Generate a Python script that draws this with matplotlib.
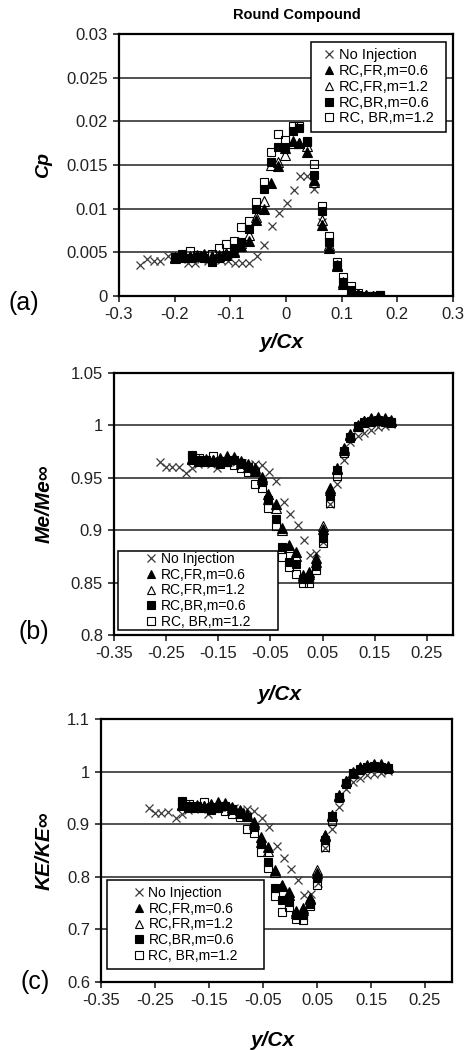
import matplotlib.pyplot as plt
from matplotlib.patches import Rectangle

plt.rcParams['font.family'] = ['Liberation Sans', 'DejaVu Sans']

series_names = ['No Injection', 'RC,FR,m=0.6', 'RC,FR,m=1.2', 'RC,BR,m=0.6', 'RC, BR,m=1.2']

# traverse positions y/Cx
pos_noinj = [-0.262, -0.250, -0.238, -0.226, -0.212, -0.200, -0.188, -0.176, -0.164, -0.152,
             -0.140, -0.128, -0.116, -0.104, -0.092, -0.079, -0.067, -0.052, -0.039, -0.025,
             -0.012, 0.002, 0.014, 0.026, 0.038, 0.051, 0.064, 0.078, 0.091, 0.103,
             0.117, 0.129, 0.143, 0.156, 0.169, 0.182]
pos_inj = [-0.200, -0.187, -0.173, -0.160, -0.147, -0.133, -0.120, -0.107, -0.093, -0.080,
           -0.067, -0.054, -0.040, -0.027, -0.014, -0.001, 0.012, 0.024, 0.037, 0.050,
           0.064, 0.078, 0.091, 0.103, 0.117, 0.129, 0.143, 0.156, 0.169, 0.182]

# (a) Cp
cp_noinj = [0.0036, 0.0042, 0.0040, 0.0040, 0.0046, 0.0044, 0.0042, 0.0038, 0.0038, 0.0042,
            0.0040, 0.0042, 0.0041, 0.0040, 0.0038, 0.0038, 0.0038, 0.0046, 0.0058, 0.0080,
            0.0095, 0.0107, 0.0121, 0.0137, 0.0137, 0.0123, 0.0085, 0.0055, 0.0033, 0.0015,
            0.0005, 0.0001, 0.0, 0.0, 0.0]
cp_fr06 = [0.0045, 0.0046, 0.0045, 0.0046, 0.0047, 0.0045, 0.0046, 0.0047, 0.0050, 0.0057,
           0.0063, 0.0087, 0.0100, 0.0129, 0.0149, 0.0169, 0.0177, 0.0175, 0.0165, 0.0133,
           0.0081, 0.0055, 0.0034, 0.0014, 0.0005, 0.0002, 0.0001, 0.0, 0.0]
cp_fr12 = [0.0044, 0.0045, 0.0046, 0.0047, 0.0048, 0.0046, 0.0047, 0.0049, 0.0052, 0.0061,
           0.0070, 0.0091, 0.0109, 0.0150, 0.0153, 0.0161, 0.0175, 0.0175, 0.0172, 0.0130,
           0.0087, 0.0058, 0.0036, 0.0016, 0.0006, 0.0002, 0.0001, 0.0, 0.0]
cp_br06 = [0.0043, 0.0047, 0.0044, 0.0045, 0.0043, 0.0039, 0.0043, 0.0047, 0.0055, 0.0062,
           0.0077, 0.0100, 0.0123, 0.0154, 0.0171, 0.0171, 0.0189, 0.0192, 0.0177, 0.0139,
           0.0097, 0.0062, 0.0035, 0.0016, 0.0007, 0.0001, 0.0, 0.0, 0.0001]
cp_br12 = [0.0045, 0.0048, 0.0051, 0.0047, 0.0046, 0.0048, 0.0055, 0.0059, 0.0063, 0.0079,
           0.0086, 0.0108, 0.0131, 0.0165, 0.0186, 0.0179, 0.0195, 0.0195, 0.0176, 0.0151,
           0.0103, 0.0069, 0.0039, 0.0022, 0.0011, 0.0003, 0.0, 0.0, 0.0001]

# (b) Me/Me_inf
me_noinj = [0.965, 0.960, 0.960, 0.960, 0.955, 0.959, 0.963, 0.966, 0.963, 0.959,
            0.965, 0.966, 0.965, 0.964, 0.962, 0.963, 0.962, 0.956, 0.947, 0.927,
            0.915, 0.905, 0.891, 0.876, 0.878, 0.889, 0.925, 0.944, 0.967, 0.984,
            0.990, 0.993, 0.996, 0.998, 0.999, 1.001]
me_fr06 = [0.968, 0.967, 0.968, 0.967, 0.969, 0.971, 0.970, 0.966, 0.963, 0.959,
           0.951, 0.935, 0.925, 0.902, 0.886, 0.879, 0.857, 0.860, 0.873, 0.901,
           0.940, 0.959, 0.978, 0.992, 1.000, 1.004, 1.006, 1.007, 1.006, 1.004]
me_fr12 = [0.969, 0.966, 0.966, 0.967, 0.968, 0.969, 0.968, 0.964, 0.960, 0.957,
           0.949, 0.930, 0.921, 0.900, 0.884, 0.875, 0.855, 0.858, 0.870, 0.904,
           0.938, 0.958, 0.977, 0.991, 0.999, 1.004, 1.007, 1.008, 1.007, 1.005]
me_br06 = [0.971, 0.967, 0.966, 0.965, 0.963, 0.965, 0.967, 0.964, 0.960, 0.956,
           0.946, 0.929, 0.911, 0.884, 0.870, 0.868, 0.853, 0.853, 0.866, 0.893,
           0.933, 0.957, 0.976, 0.989, 0.999, 1.003, 1.004, 1.005, 1.004, 1.003]
me_br12 = [0.972, 0.969, 0.967, 0.971, 0.966, 0.965, 0.962, 0.959, 0.956, 0.944,
           0.940, 0.921, 0.904, 0.874, 0.865, 0.858, 0.850, 0.850, 0.862, 0.888,
           0.926, 0.952, 0.974, 0.988, 0.998, 1.002, 1.003, 1.004, 1.003, 1.002]

# (c) KE/KE_inf
ke_noinj = [0.931, 0.922, 0.922, 0.923, 0.912, 0.920, 0.927, 0.931, 0.928, 0.920,
            0.930, 0.933, 0.932, 0.930, 0.926, 0.928, 0.925, 0.912, 0.894, 0.858,
            0.836, 0.815, 0.793, 0.766, 0.768, 0.788, 0.855, 0.891, 0.933, 0.966,
            0.981, 0.988, 0.993, 0.996, 0.998, 1.001]
ke_fr06 = [0.937, 0.935, 0.937, 0.935, 0.939, 0.943, 0.940, 0.933, 0.927, 0.920,
           0.905, 0.875, 0.856, 0.812, 0.784, 0.772, 0.735, 0.740, 0.760, 0.808,
           0.880, 0.918, 0.956, 0.983, 1.000, 1.007, 1.011, 1.013, 1.012, 1.008]
ke_fr12 = [0.938, 0.933, 0.933, 0.935, 0.937, 0.939, 0.937, 0.929, 0.922, 0.915,
           0.901, 0.866, 0.849, 0.810, 0.782, 0.765, 0.731, 0.736, 0.757, 0.813,
           0.877, 0.916, 0.954, 0.982, 0.998, 1.008, 1.013, 1.015, 1.014, 1.010]
ke_br06 = [0.943, 0.935, 0.933, 0.931, 0.927, 0.931, 0.935, 0.929, 0.921, 0.913,
           0.895, 0.863, 0.829, 0.778, 0.756, 0.752, 0.727, 0.727, 0.749, 0.797,
           0.870, 0.915, 0.952, 0.978, 0.997, 1.005, 1.008, 1.010, 1.008, 1.006]
ke_br12 = [0.945, 0.938, 0.935, 0.943, 0.933, 0.931, 0.925, 0.919, 0.913, 0.890,
           0.883, 0.848, 0.817, 0.763, 0.733, 0.742, 0.720, 0.718, 0.744, 0.784,
           0.857, 0.906, 0.949, 0.976, 0.995, 1.003, 1.006, 1.008, 1.006, 1.004]

a_xticks = [-0.3, -0.2, -0.1, 0.0, 0.1, 0.2, 0.3]
a_xlabels = ['-0.3', '-0.2', '-0.1', '0', '0.1', '0.2', '0.3']
a_yticks = [0.0, 0.005, 0.01, 0.015, 0.02, 0.025, 0.03]
a_ylabels = ['0', '0.005', '0.01', '0.015', '0.02', '0.025', '0.03']
bc_xticks = [-0.35, -0.25, -0.15, -0.05, 0.05, 0.15, 0.25]
bc_xlabels = ['-0.35', '-0.25', '-0.15', '-0.05', '0.05', '0.15', '0.25']
b_yticks = [0.8, 0.85, 0.9, 0.95, 1.0, 1.05]
b_ylabels = ['0.8', '0.85', '0.9', '0.95', '1', '1.05']
c_yticks = [0.6, 0.7, 0.8, 0.9, 1.0, 1.1]
c_ylabels = ['0.6', '0.7', '0.8', '0.9', '1', '1.1']

W, H = 467, 1050
fig = plt.figure(figsize=(W / 100, H / 100), dpi=100)


def px_rect(l, t, r, b):
    return [l / W, 1 - b / H, (r - l) / W, (b - t) / H]


def panel(rect, vals, xlim, xticks, xlabels, ylim, yticks, ylabels, ylabel, ylab_fs, tag,
          tag_xy, xlab_y, leg_box, leg_fs):
    ax = fig.add_axes(px_rect(*rect))
    v0, v1, v2, v3, v4 = vals
    ax.plot(pos_noinj[:len(v0)], v0, ls='none', marker='x', ms=6, mew=0.9,
            color='#3a3a3a', label=series_names[0], zorder=3)
    ax.plot(pos_inj[:len(v1)], v1, ls='none', marker='^', ms=6.8, mfc='black', mec='black',
            mew=0.8, label=series_names[1], zorder=3)
    ax.plot(pos_inj[:len(v2)], v2, ls='none', marker='^', ms=6.8, mfc='none', mec='black',
            mew=0.8, label=series_names[2], zorder=3)
    ax.plot(pos_inj[:len(v3)], v3, ls='none', marker='s', ms=6.2, mfc='black', mec='black',
            mew=0.8, label=series_names[3], zorder=3)
    ax.plot(pos_inj[:len(v4)], v4, ls='none', marker='s', ms=6.2, mfc='none', mec='black',
            mew=0.8, label=series_names[4], zorder=3)

    ax.set_xlim(xlim)
    ax.set_ylim(ylim)
    ax.set_xticks(xticks)
    ax.set_xticklabels(xlabels)
    ax.set_yticks(yticks)
    ax.set_yticklabels(ylabels)
    ax.tick_params(direction='out', length=4, width=1.2, labelsize=12, colors='#222222',
                   pad=4)
    for s in ax.spines.values():
        s.set_linewidth(1.6)
    ax.yaxis.grid(True, color='#222222', lw=1.1)
    ax.set_axisbelow(True)

    fig.text(44 / W, 1 - (rect[1] + rect[3]) / 2 / H, ylabel, rotation=90, ha='center',
             va='center', fontsize=ylab_fs, fontweight='bold', fontstyle='italic')
    fig.text((rect[0] + rect[2]) / 2 / W - 4 / W, 1 - xlab_y / H, 'y/Cx', ha='center',
             va='center', fontsize=15, fontweight='bold', fontstyle='italic')
    fig.text(tag_xy[0] / W, 1 - tag_xy[1] / H, tag, ha='center', va='center', fontsize=18)

    l, t, r, b = leg_box
    box = Rectangle((l / W, 1 - b / H), (r - l) / W, (b - t) / H, transform=fig.transFigure,
                    facecolor='white', edgecolor='black', lw=1.1, zorder=5)
    ax.add_artist(box)
    leg = ax.legend(loc='center', bbox_to_anchor=((l + r) / 2 / W, 1 - (t + b) / 2 / H),
                    bbox_transform=fig.transFigure, frameon=False, fontsize=leg_fs,
                    handlelength=0.8, handletextpad=0.3, labelspacing=0.12,
                    borderpad=0, markerscale=0.85)
    leg.set_zorder(6)
    return ax


panel((119, 34, 453, 296), [cp_noinj, cp_fr06, cp_fr12, cp_br06, cp_br12],
      (-0.3, 0.3), a_xticks, a_xlabels, (0, 0.03), a_yticks, a_ylabels,
      'Cp', 14, '(a)', (24, 303), 343, (311, 42, 446, 132), 10.5)
panel((114, 373, 453, 635), [me_noinj, me_fr06, me_fr12, me_br06, me_br12],
      (-0.35, 0.3), bc_xticks, bc_xlabels, (0.8, 1.05), b_yticks, b_ylabels,
      'Me/Me∞', 15, '(b)', (34, 632), 695, (118, 551, 278, 630), 10)
panel((101, 719, 452, 982), [ke_noinj, ke_fr06, ke_fr12, ke_br06, ke_br12],
      (-0.35, 0.3), bc_xticks, bc_xlabels, (0.6, 1.1), c_yticks, c_ylabels,
      'KE/KE∞', 15, '(c)', (35, 982), 1040, (107, 880, 264, 969), 10)

fig.text(297 / W, 1 - 15 / H, 'Round Compound', ha='center', va='center', fontsize=10.5,
         fontweight='bold')

fig.savefig('out.png', dpi=100)
